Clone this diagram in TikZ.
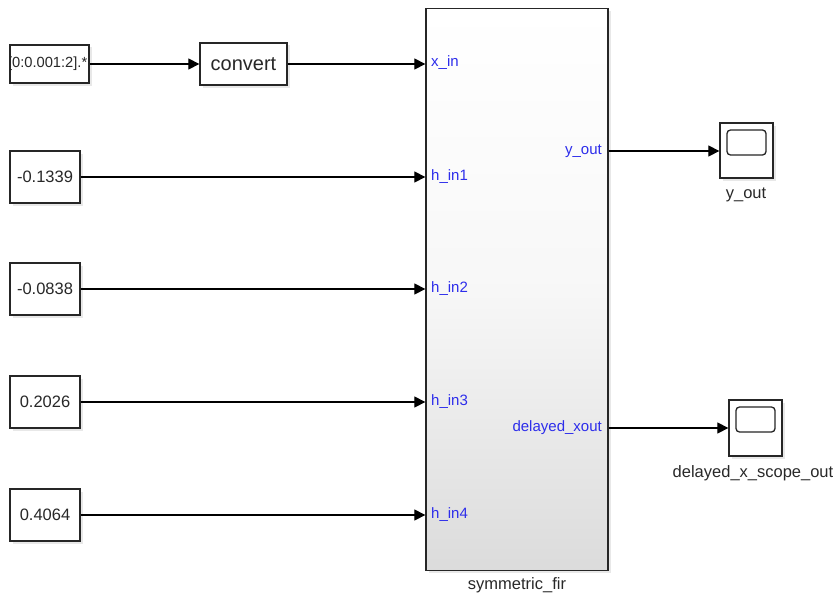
\documentclass[tikz,border=0pt]{standalone}
\usepackage{fontspec}
\setmainfont{Liberation Sans}
\usetikzlibrary{arrows.meta,shadows}
\definecolor{portblue}{RGB}{45,45,235}
\definecolor{txtgray}{RGB}{40,40,40}
\tikzset{
  blk/.style={draw=black!85, line width=1.3pt, fill=white, inner sep=0pt,
    drop shadow={opacity=0.18, shadow xshift=2.5pt, shadow yshift=-2.5pt}},
  sig/.style={line width=1.2pt, -{Triangle[length=11pt,width=11pt]}},
  port/.style={text=portblue, font=\fontsize{15}{16}\selectfont, inner sep=0pt},
  lbl/.style={text=txtgray, font=\fontsize{16.5}{18}\selectfont, inner sep=0pt},
  num/.style={text=txtgray, font=\fontsize{16.5}{18}\selectfont},
}
\begin{document}
\begin{tikzpicture}[x=1pt,y=-1pt]
\useasboundingbox (0,0) rectangle (840,594);
% source boxes
\node[blk, minimum width=79pt, minimum height=38pt] (src) at (49.5,64) {};
\begin{scope}
  \clip (10.5,45) rectangle (88.5,83);
  \node[text=txtgray, font=\fontsize{14.7}{16}\selectfont, anchor=east, inner sep=0pt] (srctext) at (87.5,64) {[0:0.001:2].*};
\end{scope}
\node[blk, minimum width=87pt, minimum height=42pt, num, font=\fontsize{20}{22}\selectfont] (conv) at (243.5,64) {convert};
\node[blk, minimum width=70pt, minimum height=52pt, num] (c1) at (45,177) {-0.1339};
\node[blk, minimum width=70pt, minimum height=52pt, num] (c2) at (45,289) {-0.0838};
\node[blk, minimum width=70pt, minimum height=52pt, num] (c3) at (45,402) {0.2026};
\node[blk, minimum width=70pt, minimum height=52pt, num] (c4) at (45,515) {0.4064};
% main block
\node[draw=black!85, line width=1.3pt, inner sep=0pt, minimum width=182pt, minimum height=562pt,
  top color=white, bottom color=black!14, middle color=black!3,
  drop shadow={opacity=0.18, shadow xshift=2.5pt, shadow yshift=-2.5pt}] (fir) at (517,289.5) {};
\node[lbl, anchor=north] (firlbl) at (517,577) {symmetric\_fir};
% scopes
\node[blk, minimum width=53pt, minimum height=55pt] (s1) at (746.5,150.5) {};
\draw[line width=1.3pt, rounded corners=3.5pt, draw=black!85] (727,130) rectangle (766,155);
\node[lbl, anchor=north] (s1lbl) at (746,188) {y\_out};
\node[blk, minimum width=53pt, minimum height=56pt] (s2) at (755.5,428) {};
\draw[line width=1.3pt, rounded corners=3.5pt, draw=black!85] (736,407) rectangle (775,432);
\node[lbl, anchor=north] (s2lbl) at (753,465) {delayed\_x\_scope\_out};
% port labels
\node[port, anchor=west] (pxin) at (431,63) {x\_in};
\node[port, anchor=west] (ph1) at (431,177) {h\_in1};
\node[port, anchor=west] (ph2) at (431,289) {h\_in2};
\node[port, anchor=west] (ph3) at (431,402) {h\_in3};
\node[port, anchor=west] (ph4) at (431,515) {h\_in4};
\node[port, anchor=east] (pyo) at (602,151) {y\_out};
\node[port, anchor=east] (pdx) at (602,428) {delayed\_xout};
% connectors
\draw[sig] (src.east |- conv.west) -- (conv.west);
\draw[sig] (conv.east) -- (conv.east -| fir.west);
\draw[sig] (c1.east) -- (c1.east -| fir.west);
\draw[sig] (c2.east) -- (c2.east -| fir.west);
\draw[sig] (c3.east) -- (c3.east -| fir.west);
\draw[sig] (c4.east) -- (c4.east -| fir.west);
\draw[sig] (fir.east |- pyo) -- (s1.west |- pyo);
\draw[sig] (fir.east |- s2.west) -- (s2.west);
\end{tikzpicture}
\end{document}
